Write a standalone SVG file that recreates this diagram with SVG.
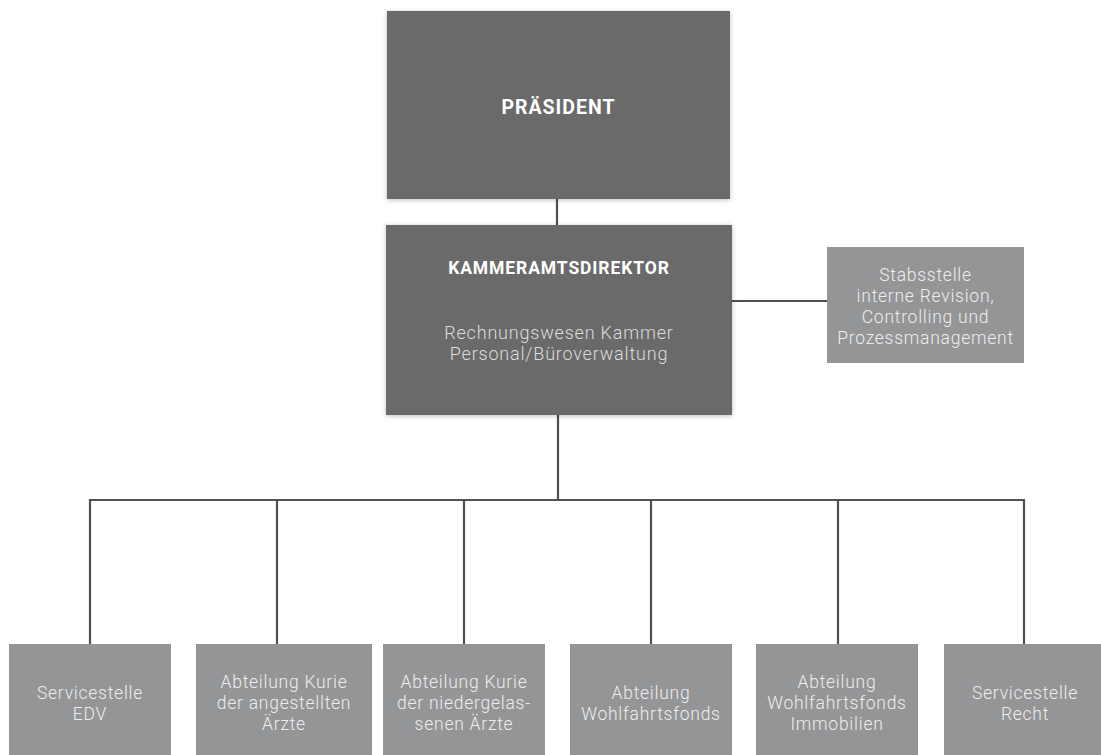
<svg xmlns="http://www.w3.org/2000/svg" width="1101" height="755" viewBox="0 0 1101 755">
<style>
.dark{fill:#6a6b6a}
.light{fill:#949597}
.conn{stroke:#4f5050;stroke-width:2.2;fill:none}
.t{font-family:Roboto,"Liberation Sans",sans-serif;font-weight:300;font-size:17.5px;letter-spacing:0.75px;text-anchor:middle;fill:#eeeeee}
.td{fill:#dcdcdc;font-size:18px;letter-spacing:0.8px}
.b{font-family:Roboto,"Liberation Sans",sans-serif;font-weight:700;font-size:17.5px;letter-spacing:0.9px;text-anchor:middle;fill:#ffffff}
.bl{font-size:19.5px;letter-spacing:1px}
</style>
<defs>
<filter id="sh" x="-10%" y="-10%" width="120%" height="120%">
<feDropShadow dx="0" dy="1" stdDeviation="2.5" flood-color="#000" flood-opacity="0.25"/>
</filter>
</defs>
<g id="connectors">
<line class="conn" x1="557" y1="199" x2="557" y2="225"/>
<line class="conn" x1="732" y1="301" x2="827" y2="301"/>
<line class="conn" x1="558" y1="415" x2="558" y2="500"/>
<polyline class="conn" points="90,644 90,500 1024,500 1024,644"/>
<line class="conn" x1="277" y1="500" x2="277" y2="644"/>
<line class="conn" x1="464" y1="500" x2="464" y2="644"/>
<line class="conn" x1="651" y1="500" x2="651" y2="644"/>
<line class="conn" x1="838" y1="500" x2="838" y2="644"/>
</g>
<g id="praesident">
<rect class="dark" x="387" y="11" width="343" height="188" filter="url(#sh)"/>
<text class="b bl" x="558.5" y="114">PRÄSIDENT</text>
</g>
<g id="kammeramtsdirektor">
<rect class="dark" x="386" y="225" width="346" height="190" filter="url(#sh)"/>
<text class="b" x="559" y="274">KAMMERAMTSDIREKTOR</text>
<text class="t td" x="559" y="339">Rechnungswesen Kammer</text>
<text class="t td" x="559" y="360">Personal/Büroverwaltung</text>
</g>
<g id="stabsstelle">
<rect class="light" x="827" y="247" width="197" height="116"/>
<text class="t" x="925.5" y="281">Stabsstelle</text>
<text class="t" x="925.5" y="302">interne Revision,</text>
<text class="t" x="925.5" y="323">Controlling und</text>
<text class="t" x="925.5" y="344">Prozessmanagement</text>
</g>
<g id="edv">
<rect class="light" x="9" y="644" width="162" height="111"/>
<text class="t" x="90" y="699">Servicestelle</text>
<text class="t" x="90" y="720">EDV</text>
</g>
<g id="kurie-angestellte">
<rect class="light" x="196" y="644" width="176" height="111"/>
<text class="t" x="284" y="688">Abteilung Kurie</text>
<text class="t" x="284" y="709">der angestellten</text>
<text class="t" x="284" y="730">Ärzte</text>
</g>
<g id="kurie-niedergelassene">
<rect class="light" x="383" y="644" width="162" height="111"/>
<text class="t" x="464" y="688">Abteilung Kurie</text>
<text class="t" x="464" y="709">der niedergelas-</text>
<text class="t" x="464" y="730">senen Ärzte</text>
</g>
<g id="wohlfahrtsfonds">
<rect class="light" x="570" y="644" width="162" height="111"/>
<text class="t" x="651" y="699">Abteilung</text>
<text class="t" x="651" y="720">Wohlfahrtsfonds</text>
</g>
<g id="wohlfahrtsfonds-immobilien">
<rect class="light" x="756" y="644" width="162" height="111"/>
<text class="t" x="837" y="688">Abteilung</text>
<text class="t" x="837" y="709">Wohlfahrtsfonds</text>
<text class="t" x="837" y="730">Immobilien</text>
</g>
<g id="recht">
<rect class="light" x="944" y="644" width="162" height="111"/>
<text class="t" x="1025" y="699">Servicestelle</text>
<text class="t" x="1025" y="720">Recht</text>
</g>
</svg>
